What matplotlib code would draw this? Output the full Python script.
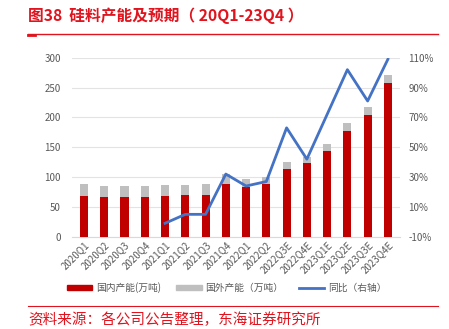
import numpy as np
import matplotlib.pyplot as plt
from matplotlib.lines import Line2D
from matplotlib.patches import Patch

plt.rcParams['font.family'] = ['Noto Sans CJK SC', 'DejaVu Sans']

quarters = ['2020Q1', '2020Q2', '2020Q3', '2020Q4', '2021Q1', '2021Q2', '2021Q3', '2021Q4',
            '2022Q1', '2022Q2', '2022Q3E', '2022Q4E', '2023Q1E', '2023Q2E', '2023Q3E', '2023Q4E']
domestic = [68, 66, 67, 66, 68, 70, 70, 88, 84, 88, 114, 123, 144, 178, 204, 258]
total = [89, 85, 85, 85, 86, 87, 88, 105, 96, 100, 125, 134, 156, 190, 217, 271]
yoy = [None, None, None, None, -1, 5, 5, 32, 24, 27, 63, 42, 72, 102, 81, 109]

overseas = [t - d for t, d in zip(total, domestic)]

RED = '#C00000'
GRAY = '#BFBFBF'
BLUE = '#4472C4'
TXT = '#595959'
TITLE_RED = '#E0141E'

fig = plt.figure(figsize=(4.49, 3.29), dpi=100)
ax = fig.add_axes([0.160, 0.2805, 0.731, 0.544])
x = np.arange(len(quarters))

ax.bar(x, domestic, width=0.4, color=RED, zorder=3)
ax.bar(x, overseas, width=0.4, bottom=domestic, color=GRAY, zorder=3)
ax.set_ylim(0, 300)
ax.set_yticks(range(0, 301, 50))
ax.set_xlim(-0.6, len(quarters) - 0.4)
ax.grid(axis='y', color='#E3E3E3', linewidth=0.8, zorder=0)
for s in ['top', 'left', 'right']:
    ax.spines[s].set_visible(False)
ax.spines['bottom'].set_color('#D9D9D9')
ax.tick_params(axis='y', length=0, labelsize=7, labelcolor=TXT, pad=8)
ax.tick_params(axis='x', length=0, labelsize=7, labelcolor=TXT, pad=2)
ax.set_xticks(x)
ax.set_xticklabels(quarters, rotation=45, ha='right', rotation_mode='anchor')

ax2 = ax.twinx()
idx = [i for i, v in enumerate(yoy) if v is not None]
ax2.plot(idx, [yoy[i] for i in idx], color=BLUE, linewidth=2.0, zorder=4)
ax2.set_ylim(-10, 110)
ax2.set_yticks(range(-10, 111, 20))
ax2.set_yticklabels([f'{v}%' for v in range(-10, 111, 20)])
for s in ['top', 'left', 'right', 'bottom']:
    ax2.spines[s].set_visible(False)
ax2.tick_params(axis='y', length=0, labelsize=7, labelcolor=TXT, pad=6)

handles = [Patch(color=RED), Patch(color=GRAY), Line2D([0], [0], color=BLUE, linewidth=2)]
labels = ['国内产能(万吨)', '国外产能（万吨）', '同比（右轴）']
fig.legend(handles, labels, loc='center', bbox_to_anchor=(0.505, 0.125), ncol=3, frameon=False,
           fontsize=7, labelcolor=TXT, handlelength=2.6, handleheight=0.4, columnspacing=1.6,
           handletextpad=0.4)

fig.text(0.062, 0.952, '图38  硅料产能及预期（ 20Q1-23Q4 ）', color=TITLE_RED, fontsize=11.3,
         fontweight='bold', va='center')
fig.add_artist(Line2D([0.062, 0.976], [0.897, 0.897], color=TITLE_RED, linewidth=1.0))
fig.add_artist(Line2D([0.062, 0.078], [0.895, 0.895], color=TITLE_RED, linewidth=2.0))
fig.add_artist(Line2D([0.062, 0.976], [0.07, 0.07], color=TITLE_RED, linewidth=0.8))
fig.text(0.062, 0.027, '资料来源：各公司公告整理，东海证券研究所', color=TITLE_RED, fontsize=10.5,
         va='center')

fig.savefig('out.png', dpi=100)
